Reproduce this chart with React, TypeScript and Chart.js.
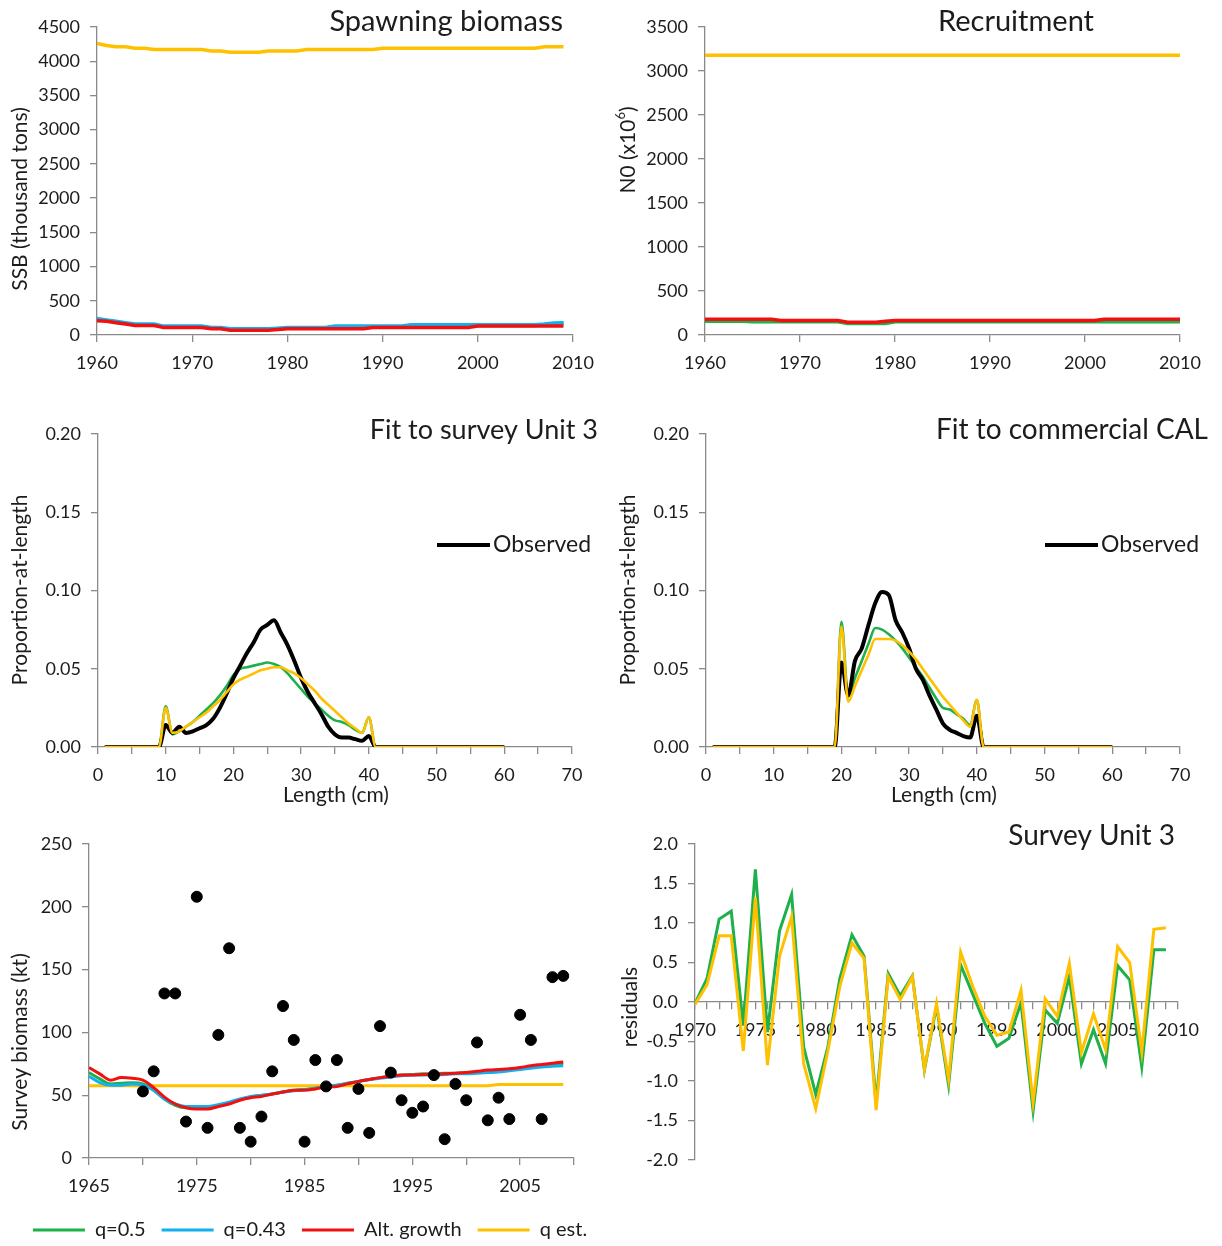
import React, { useEffect, useRef } from "react";
import { Chart, registerables } from "chart.js";

Chart.register(...registerables);

const FONT = "Lato, 'Open Sans', sans-serif";
const TXT = "#1c1c1c";
const AXIS = "#8a8a8a";
const GREEN = "#1DB04B";
const BLUE = "#12B0EE";
const RED = "#F20F0F";
const YELLOW = "#FFC000";
const BLACK = "#000000";

// ---------- categories ----------
const YEARS_1960_2009 = [1960, 1961, 1962, 1963, 1964, 1965, 1966, 1967, 1968, 1969, 1970, 1971, 1972, 1973, 1974, 1975, 1976, 1977, 1978, 1979, 1980, 1981, 1982, 1983, 1984, 1985, 1986, 1987, 1988, 1989, 1990, 1991, 1992, 1993, 1994, 1995, 1996, 1997, 1998, 1999, 2000, 2001, 2002, 2003, 2004, 2005, 2006, 2007, 2008, 2009];
const YEARS_1960_2010 = [1960, 1961, 1962, 1963, 1964, 1965, 1966, 1967, 1968, 1969, 1970, 1971, 1972, 1973, 1974, 1975, 1976, 1977, 1978, 1979, 1980, 1981, 1982, 1983, 1984, 1985, 1986, 1987, 1988, 1989, 1990, 1991, 1992, 1993, 1994, 1995, 1996, 1997, 1998, 1999, 2000, 2001, 2002, 2003, 2004, 2005, 2006, 2007, 2008, 2009, 2010];
const YEARS_1965_2009 = [1965, 1966, 1967, 1968, 1969, 1970, 1971, 1972, 1973, 1974, 1975, 1976, 1977, 1978, 1979, 1980, 1981, 1982, 1983, 1984, 1985, 1986, 1987, 1988, 1989, 1990, 1991, 1992, 1993, 1994, 1995, 1996, 1997, 1998, 1999, 2000, 2001, 2002, 2003, 2004, 2005, 2006, 2007, 2008, 2009];
const YEARS_1970_2009 = [1970, 1971, 1972, 1973, 1974, 1975, 1976, 1977, 1978, 1979, 1980, 1981, 1982, 1983, 1984, 1985, 1986, 1987, 1988, 1989, 1990, 1991, 1992, 1993, 1994, 1995, 1996, 1997, 1998, 1999, 2000, 2001, 2002, 2003, 2004, 2005, 2006, 2007, 2008, 2009];
const LENGTHS = [1, 2, 3, 4, 5, 6, 7, 8, 9, 10, 11, 12, 13, 14, 15, 16, 17, 18, 19, 20, 21, 22, 23, 24, 25, 26, 27, 28, 29, 30, 31, 32, 33, 34, 35, 36, 37, 38, 39, 40, 41, 42, 43, 44, 45, 46, 47, 48, 49, 50, 51, 52, 53, 54, 55, 56, 57, 58, 59, 60];

const SERIES_NAMES = ["q=0.5", "q=0.43", "Alt. growth", "q est."];

// ---------- Spawning biomass (1960-2009) ----------
const ssbGreen = [225, 210, 190, 170, 150, 150, 150, 120, 120, 120, 120, 120, 100, 100, 80, 80, 80, 80, 80, 90, 100, 100, 100, 100, 100, 120, 120, 120, 120, 120, 120, 120, 120, 140, 140, 140, 140, 140, 140, 140, 140, 140, 140, 140, 140, 140, 140, 150, 165, 170];
const ssbBlue = [240, 220, 200, 180, 160, 160, 160, 130, 130, 130, 130, 130, 110, 110, 90, 90, 90, 90, 90, 100, 110, 110, 110, 110, 110, 130, 130, 130, 130, 130, 130, 130, 130, 150, 150, 150, 150, 150, 150, 150, 150, 150, 150, 150, 150, 150, 150, 160, 175, 180];
const ssbRed = [210, 200, 180, 160, 140, 140, 140, 110, 110, 110, 110, 110, 90, 90, 70, 70, 70, 70, 70, 80, 90, 90, 90, 90, 90, 90, 90, 90, 90, 110, 110, 110, 110, 110, 110, 110, 110, 110, 110, 110, 130, 130, 130, 130, 130, 130, 130, 130, 130, 130];
const ssbYellow = [4260, 4230, 4210, 4210, 4190, 4190, 4170, 4170, 4170, 4170, 4170, 4170, 4150, 4150, 4130, 4130, 4130, 4130, 4150, 4150, 4150, 4150, 4170, 4170, 4170, 4170, 4170, 4170, 4170, 4170, 4190, 4190, 4190, 4190, 4190, 4190, 4190, 4190, 4190, 4190, 4190, 4190, 4190, 4190, 4190, 4190, 4190, 4210, 4210, 4210];

// ---------- Recruitment (1960-2010) ----------
const recGreen = [155, 155, 155, 155, 155, 150, 150, 150, 150, 150, 150, 150, 150, 150, 150, 130, 130, 130, 130, 130, 150, 150, 150, 150, 150, 150, 150, 150, 150, 150, 150, 150, 150, 150, 150, 150, 150, 150, 150, 150, 150, 150, 150, 150, 150, 150, 150, 150, 150, 150, 150];
const recBlue = [165, 165, 165, 165, 165, 155, 155, 155, 155, 155, 155, 155, 155, 155, 155, 140, 140, 140, 140, 140, 155, 155, 155, 155, 155, 155, 155, 155, 155, 155, 155, 155, 155, 155, 155, 155, 155, 155, 155, 155, 155, 155, 155, 155, 155, 155, 155, 155, 155, 155, 155];
const recRed = [180, 180, 180, 180, 180, 180, 180, 180, 165, 165, 165, 165, 165, 165, 165, 145, 145, 145, 145, 155, 165, 165, 165, 165, 165, 165, 165, 165, 165, 165, 165, 165, 165, 165, 165, 165, 165, 165, 165, 165, 165, 165, 180, 180, 180, 180, 180, 180, 180, 180, 180];
const recYellow = [3180, 3180, 3180, 3180, 3180, 3180, 3180, 3180, 3180, 3180, 3180, 3180, 3180, 3180, 3180, 3180, 3180, 3180, 3180, 3180, 3180, 3180, 3180, 3180, 3180, 3180, 3180, 3180, 3180, 3180, 3180, 3180, 3180, 3180, 3180, 3180, 3180, 3180, 3180, 3180, 3180, 3180, 3180, 3180, 3180, 3180, 3180, 3180, 3180, 3180, 3180];

// ---------- Fit to survey Unit 3 (length 1-60 cm) ----------
const surveyObserved = [0, 0, 0, 0, 0, 0, 0, 0, 0, 0.014, 0.009, 0.013, 0.009, 0.010, 0.012, 0.014, 0.018, 0.025, 0.034, 0.044, 0.052, 0.060, 0.067, 0.075, 0.078, 0.081, 0.073, 0.065, 0.055, 0.044, 0.035, 0.028, 0.021, 0.013, 0.008, 0.006, 0.006, 0.005, 0.004, 0.007, 0, 0, 0, 0, 0, 0, 0, 0, 0, 0, 0, 0, 0, 0, 0, 0, 0, 0, 0, 0];
const surveyGreen = [0, 0, 0, 0, 0, 0, 0, 0, 0, 0.026, 0.008, 0.010, 0.013, 0.016, 0.020, 0.024, 0.028, 0.033, 0.039, 0.046, 0.050, 0.051, 0.052, 0.053, 0.054, 0.053, 0.051, 0.047, 0.042, 0.037, 0.032, 0.028, 0.024, 0.020, 0.017, 0.016, 0.014, 0.011, 0.009, 0.019, 0, 0, 0, 0, 0, 0, 0, 0, 0, 0, 0, 0, 0, 0, 0, 0, 0, 0, 0, 0];
const surveyYellow = [0, 0, 0, 0, 0, 0, 0, 0, 0, 0.025, 0.009, 0.010, 0.013, 0.016, 0.019, 0.022, 0.026, 0.030, 0.035, 0.040, 0.043, 0.045, 0.047, 0.049, 0.050, 0.051, 0.051, 0.049, 0.047, 0.044, 0.040, 0.036, 0.031, 0.027, 0.023, 0.019, 0.015, 0.012, 0.009, 0.019, 0, 0, 0, 0, 0, 0, 0, 0, 0, 0, 0, 0, 0, 0, 0, 0, 0, 0, 0, 0];

// ---------- Fit to commercial CAL (length 1-60 cm) ----------
const commObserved = [0, 0, 0, 0, 0, 0, 0, 0, 0, 0, 0, 0, 0, 0, 0, 0, 0, 0, 0, 0.054, 0.033, 0.055, 0.063, 0.078, 0.092, 0.099, 0.097, 0.081, 0.073, 0.063, 0.050, 0.043, 0.033, 0.024, 0.015, 0.011, 0.009, 0.007, 0.006, 0.020, 0, 0, 0, 0, 0, 0, 0, 0, 0, 0, 0, 0, 0, 0, 0, 0, 0, 0, 0, 0];
const commGreen = [0, 0, 0, 0, 0, 0, 0, 0, 0, 0, 0, 0, 0, 0, 0, 0, 0, 0, 0, 0.080, 0.032, 0.044, 0.055, 0.066, 0.076, 0.075, 0.072, 0.068, 0.063, 0.057, 0.051, 0.045, 0.038, 0.031, 0.025, 0.024, 0.021, 0.018, 0.014, 0.030, 0, 0, 0, 0, 0, 0, 0, 0, 0, 0, 0, 0, 0, 0, 0, 0, 0, 0, 0, 0];
const commYellow = [0, 0, 0, 0, 0, 0, 0, 0, 0, 0, 0, 0, 0, 0, 0, 0, 0, 0, 0, 0.077, 0.029, 0.039, 0.049, 0.059, 0.069, 0.069, 0.069, 0.068, 0.065, 0.061, 0.056, 0.050, 0.044, 0.038, 0.032, 0.027, 0.022, 0.017, 0.013, 0.030, 0, 0, 0, 0, 0, 0, 0, 0, 0, 0, 0, 0, 0, 0, 0, 0, 0, 0, 0, 0];

// ---------- Survey biomass (kt) ----------
const surveyIndexObs = [53, 69, 131, 131, 29, 208, 24, 98, 167, 24, 13, 33, 69, 121, 94, 13, 78, 57, 78, 24, 55, 20, 105, 68, 46, 36, 41, 66, 15, 59, 46, 92, 30, 48, 31, 114, 94, 31, 144, 145];
const biomassGreen = [68, 63, 59, 59.5, 60, 59, 54, 47, 42, 40, 40, 40, 42, 44, 46.5, 48.5, 49.5, 51, 52.5, 54, 54.5, 55.5, 57, 58, 59.5, 61, 62.5, 64, 65, 66, 66.5, 67, 67, 67.5, 67.5, 68, 68.5, 69, 69.5, 70.5, 71.5, 72.5, 73.5, 74.5, 75.5];
const biomassBlue = [65, 60, 58, 58, 59, 58, 54, 47, 43, 41, 41, 41, 42.5, 44.5, 47, 49, 50, 51, 52.5, 53.5, 54.5, 55.5, 57, 58, 59.5, 61, 62.5, 63.5, 64.5, 65.5, 66, 66, 66, 66.5, 67, 67, 67.5, 68, 68.5, 69.5, 70.5, 71.5, 72.5, 73, 73.5];
const biomassRed = [72, 67, 62, 64, 63.5, 62, 56, 48.5, 43, 40, 39, 39, 41, 43, 46, 48, 49, 51, 52.5, 54, 54, 55, 56.5, 57, 59, 61, 62.5, 64, 65, 66, 66, 66.5, 66.5, 67, 67.5, 68, 69, 70, 70.5, 71, 72, 73.5, 74.5, 75.5, 76.5];
const biomassYellow = [57.5, 57.5, 57.5, 57.5, 57.5, 57.5, 57.5, 57.5, 57.5, 57.5, 57.5, 57.5, 57.5, 57.5, 57.5, 57.5, 57.5, 57.5, 57.5, 57.5, 57.5, 57.5, 57.5, 57.5, 57.5, 57.5, 57.5, 57.5, 57.5, 57.5, 57.5, 57.5, 57.5, 57.5, 57.5, 57.5, 57.5, 57.5, 58.5, 58.5, 58.5, 58.5, 58.5, 58.5, 58.5];

// ---------- Residuals Survey Unit 3 (1970-2009) ----------
const residGreen = [-0.02, 0.3, 1.05, 1.15, -0.3, 1.68, -0.38, 0.9, 1.36, -0.57, -1.17, -0.57, 0.3, 0.85, 0.58, -1.28, 0.36, 0.08, 0.33, -0.86, -0.05, -1.05, 0.47, 0.1, -0.27, -0.56, -0.46, -0.01, -1.38, -0.1, -0.27, 0.32, -0.78, -0.35, -0.78, 0.46, 0.28, -0.82, 0.66, 0.66];
const residYellow = [-0.03, 0.22, 0.84, 0.84, -0.62, 1.32, -0.8, 0.58, 1.08, -0.78, -1.35, -0.62, 0.2, 0.75, 0.55, -1.37, 0.32, 0.03, 0.32, -0.85, -0.02, -0.98, 0.63, 0.2, -0.18, -0.42, -0.38, 0.15, -1.27, 0.04, -0.18, 0.49, -0.64, -0.15, -0.6, 0.7, 0.5, -0.63, 0.92, 0.94];

// ---------- helpers ----------
type Seg = { text: string; size: number; dy?: number };
type TextItem = { segs: Seg[]; x: number; y: number; align: "left" | "right" | "center"; rotate?: boolean };
type LineItem = { x1: number; x2: number; y: number; color: string; width: number };

function annotPlugin(texts: TextItem[], lines: LineItem[] = []) {
  return {
    id: "annot",
    afterDraw(chart: any) {
      const ctx: CanvasRenderingContext2D = chart.ctx;
      ctx.save();
      for (const l of lines) {
        ctx.strokeStyle = l.color;
        ctx.lineWidth = l.width;
        ctx.beginPath();
        ctx.moveTo(l.x1, l.y);
        ctx.lineTo(l.x2, l.y);
        ctx.stroke();
      }
      for (const t of texts) {
        ctx.save();
        ctx.translate(t.x, t.y);
        if (t.rotate) ctx.rotate(-Math.PI / 2);
        ctx.fillStyle = TXT;
        ctx.textBaseline = "middle";
        ctx.textAlign = "left";
        const widths = t.segs.map((s) => {
          ctx.font = `${s.size}px ${FONT}`;
          return ctx.measureText(s.text).width;
        });
        const total = widths.reduce((a, b) => a + b, 0);
        let x = t.align === "left" ? 0 : t.align === "right" ? -total : -total / 2;
        t.segs.forEach((s, i) => {
          ctx.font = `${s.size}px ${FONT}`;
          ctx.fillText(s.text, x, s.dy || 0);
          x += widths[i];
        });
        ctx.restore();
      }
      ctx.restore();
    },
  };
}

const txt = (text: string, size: number, x: number, y: number, align: "left" | "right" | "center", rotate = false): TextItem => ({
  segs: [{ text, size }],
  x,
  y,
  align,
  rotate,
});

const xy = (xs: number[], ys: number[]) => xs.map((x, i) => ({ x, y: ys[i] }));

function lineSet(label: string, xs: number[], ys: number[], color: string, width: number, order: number, smooth = false) {
  return {
    type: "line",
    label,
    data: xy(xs, ys),
    borderColor: color,
    backgroundColor: color,
    borderWidth: width,
    pointRadius: 0,
    pointHoverRadius: 0,
    fill: false,
    order,
    tension: smooth ? 0.4 : 0,
    cubicInterpolationMode: smooth ? "monotone" : "default",
  };
}

type AxisCfg = {
  min: number;
  max: number;
  step: number;
  fmt: (v: number) => string;
  every?: number;
  fit: (s: any) => void;
  position?: any;
};

function makeAxis(cfg: AxisCfg) {
  const a: any = {
    type: "linear",
    min: cfg.min,
    max: cfg.max,
    afterFit: cfg.fit,
    border: { display: true, color: AXIS, width: 1.3 },
    grid: { display: true, drawOnChartArea: false, drawTicks: true, tickLength: 7, color: AXIS, lineWidth: 1.3 },
    ticks: {
      stepSize: cfg.step,
      autoSkip: false,
      maxRotation: 0,
      minRotation: 0,
      padding: 10,
      color: TXT,
      font: { family: FONT, size: 18 },
      callback: (v: number) => {
        if (cfg.every) {
          const k = Math.round((v - cfg.min) / cfg.step);
          const m = Math.round(cfg.every / cfg.step);
          if (k % m !== 0) return "";
        }
        return cfg.fmt(v);
      },
    },
  };
  if (cfg.position !== undefined) a.position = cfg.position;
  return a;
}

const yearFmt = (v: number) => String(Math.round(v));
const intFmt = (v: number) => String(Math.round(v));
const fix2 = (v: number) => (Math.abs(v) < 1e-9 ? 0 : v).toFixed(2);
const fix1 = (v: number) => (Math.abs(v) < 1e-9 ? 0 : v).toFixed(1);

function baseOptions(pad: { left?: number; top: number; right: number; bottom: number }) {
  return {
    responsive: false,
    animation: false as const,
    events: [],
    layout: { padding: { left: pad.left || 0, top: pad.top, right: pad.right, bottom: pad.bottom } },
    plugins: { legend: { display: false }, tooltip: { enabled: false }, title: { display: false } },
  };
}

// ---------- panel configs ----------
function cfgSSB() {
  const W = 610, H = 400, L = 97, T = 27, R = 573, B = 335;
  return {
    type: "line",
    data: {
      datasets: [
        lineSet(SERIES_NAMES[0], YEARS_1960_2009, ssbGreen, GREEN, 3.5, 3),
        lineSet(SERIES_NAMES[1], YEARS_1960_2009, ssbBlue, BLUE, 3.5, 2),
        lineSet(SERIES_NAMES[2], YEARS_1960_2009, ssbRed, RED, 3.5, 1),
        lineSet(SERIES_NAMES[3], YEARS_1960_2009, ssbYellow, YELLOW, 3.5, 0),
      ],
    },
    options: {
      ...baseOptions({ top: T, right: W - R, bottom: 0 }),
      scales: {
        x: makeAxis({ min: 1960, max: 2010, step: 10, fmt: yearFmt, fit: (s) => { s.height = H - B; } }),
        y: makeAxis({ min: 0, max: 4500, step: 500, fmt: intFmt, fit: (s) => { s.width = L; } }),
      },
    },
    plugins: [
      annotPlugin([
        txt("Spawning biomass", 29, 563, 22, "right"),
        txt("SSB (thousand tons)", 21, 20, 199, "center", true),
      ]),
    ],
  };
}

function cfgRec() {
  const W = 612, H = 400, L = 95, T = 27, R = 570, B = 335;
  return {
    type: "line",
    data: {
      datasets: [
        lineSet(SERIES_NAMES[0], YEARS_1960_2010, recGreen, GREEN, 3.5, 1),
        lineSet(SERIES_NAMES[1], YEARS_1960_2010, recBlue, BLUE, 3.5, 2),
        lineSet(SERIES_NAMES[2], YEARS_1960_2010, recRed, RED, 3.5, 0),
        lineSet(SERIES_NAMES[3], YEARS_1960_2010, recYellow, YELLOW, 3.5, 3),
      ],
    },
    options: {
      ...baseOptions({ top: T, right: W - R, bottom: 0 }),
      scales: {
        x: makeAxis({ min: 1960, max: 2010, step: 10, fmt: yearFmt, fit: (s) => { s.height = H - B; } }),
        y: makeAxis({ min: 0, max: 3500, step: 500, fmt: intFmt, fit: (s) => { s.width = L; } }),
      },
    },
    plugins: [
      annotPlugin([
        txt("Recruitment", 29, 406, 22, "center"),
        {
          segs: [
            { text: "N0 (x10", size: 21 },
            { text: "6", size: 13, dy: -7 },
            { text: ")", size: 21 },
          ],
          x: 18,
          y: 150,
          align: "center",
          rotate: true,
        },
      ]),
    ],
  };
}

function cfgLength(title: string, titleSize: number, obs: number[], green: number[], yellow: number[], W: number, L: number, R: number, titleRight: number, legX: number, xTitleX: number, yTitleX: number) {
  const H = 400, T = 24, B = 337;
  return {
    type: "line",
    data: {
      datasets: [
        lineSet("Observed", LENGTHS, obs, BLACK, 4, 1, true),
        lineSet(SERIES_NAMES[0], LENGTHS, green, GREEN, 2.6, 2, true),
        lineSet(SERIES_NAMES[3], LENGTHS, yellow, YELLOW, 2.6, 0, true),
      ],
    },
    options: {
      ...baseOptions({ top: T, right: W - R, bottom: 0 }),
      scales: {
        x: makeAxis({ min: 0, max: 70, step: 5, every: 10, fmt: intFmt, fit: (s) => { s.height = H - B; } }),
        y: makeAxis({ min: 0, max: 0.2, step: 0.05, fmt: fix2, fit: (s) => { s.width = L; } }),
      },
    },
    plugins: [
      annotPlugin(
        [
          txt(title, titleSize, titleRight, 20, "right"),
          txt("Observed", 23, legX + 56, 135, "left"),
          txt("Length (cm)", 21, xTitleX, 385, "center"),
          txt("Proportion-at-length", 21, yTitleX, 180, "center", true),
        ],
        [{ x1: legX, x2: legX + 53, y: 135, color: BLACK, width: 4 }]
      ),
    ],
  };
}

function cfgBiomass() {
  const W = 610, H = 430, PL = 10, L = 89, T = 24, R = 574, B = 338;
  const LEG_FONT = 20, LEG_PAD = 16;
  const LEGEND_H = LEG_FONT + LEG_PAD + 10;
  return {
    type: "line",
    data: {
      datasets: [
        lineSet(SERIES_NAMES[0], YEARS_1965_2009, biomassGreen, GREEN, 3, 3, true),
        lineSet(SERIES_NAMES[1], YEARS_1965_2009, biomassBlue, BLUE, 3, 2, true),
        lineSet(SERIES_NAMES[2], YEARS_1965_2009, biomassRed, RED, 3, 1, true),
        lineSet(SERIES_NAMES[3], YEARS_1965_2009, biomassYellow, YELLOW, 3, 4),
        {
          type: "scatter",
          label: "Survey observed",
          data: xy(YEARS_1970_2009, surveyIndexObs),
          showLine: false,
          pointRadius: 5.5,
          pointHoverRadius: 5.5,
          pointBackgroundColor: BLACK,
          pointBorderColor: BLACK,
          borderColor: BLACK,
          backgroundColor: BLACK,
          order: 0,
        },
      ],
    },
    options: {
      ...baseOptions({ left: PL, top: T, right: 0, bottom: 0 }),
      plugins: {
        tooltip: { enabled: false },
        legend: {
          display: true,
          position: "bottom",
          align: "center",
          labels: {
            usePointStyle: true,
            pointStyle: "line",
            pointStyleWidth: 52,
            padding: LEG_PAD,
            color: TXT,
            font: { family: FONT, size: LEG_FONT },
            filter: (item: any) => item.datasetIndex < 4,
            sort: (a: any, b: any) => a.datasetIndex - b.datasetIndex,
          },
        },
      },
      scales: {
        x: makeAxis({ min: 1965, max: 2010, step: 5, every: 10, fmt: yearFmt, fit: (s) => { s.height = H - LEGEND_H - B; } }),
        y: makeAxis({ min: 0, max: 250, step: 50, fmt: intFmt, fit: (s) => { s.width = L - PL; } }),
        // invisible spacer on the right so the legend can span the full panel width
        yRight: {
          type: "linear",
          position: "right",
          min: 0,
          max: 250,
          display: true,
          grid: { display: false },
          border: { display: false },
          ticks: { display: false },
          afterFit: (s: any) => { s.width = W - R; },
        },
      },
    },
    plugins: [annotPlugin([txt("Survey biomass (kt)", 21, 20, 222, "center", true)])],
  };
}

function cfgResid() {
  const W = 612, H = 400, L = 85, T = 24, R = 568, B = 340;
  return {
    type: "line",
    data: {
      datasets: [
        lineSet(SERIES_NAMES[0], YEARS_1970_2009, residGreen, GREEN, 3, 1),
        lineSet(SERIES_NAMES[3], YEARS_1970_2009, residYellow, YELLOW, 3, 0),
      ],
    },
    options: {
      ...baseOptions({ top: T, right: W - R, bottom: H - B }),
      scales: {
        x: makeAxis({ min: 1970, max: 2010, step: 1, every: 5, fmt: yearFmt, fit: () => {}, position: { y: 0 } }),
        y: makeAxis({ min: -2, max: 2, step: 0.5, fmt: fix1, fit: (s) => { s.width = L; } }),
      },
    },
    plugins: [
      annotPlugin([
        txt("Survey Unit 3", 28, 565, 16, "right"),
        txt("residuals", 21, 20, 187, "center", true),
      ]),
    ],
  };
}

// ---------- components ----------
function Panel(props: { left: number; top: number; width: number; height: number; make: () => any }) {
  const ref = useRef<HTMLCanvasElement>(null);
  useEffect(() => {
    const chart = new Chart(ref.current as HTMLCanvasElement, props.make());
    return () => chart.destroy();
  }, []);
  return (
    <canvas
      ref={ref}
      width={props.width}
      height={props.height}
      style={{ position: "absolute", left: props.left, top: props.top, width: props.width, height: props.height }}
    />
  );
}

export default function App() {
  return (
    <div
      style={{
        position: "absolute",
        left: 0,
        top: 0,
        width: 1222,
        height: 1246,
        overflow: "hidden",
        background: "#ffffff",
      }}
    >
      <Panel left={0} top={0} width={610} height={400} make={cfgSSB} />
      <Panel left={610} top={0} width={612} height={400} make={cfgRec} />
      <Panel
        left={0}
        top={410}
        width={610}
        height={400}
        make={() => cfgLength("Fit to survey Unit 3", 27, surveyObserved, surveyGreen, surveyYellow, 610, 98, 572, 598, 437, 336, 20)}
      />
      <Panel
        left={610}
        top={410}
        width={612}
        height={400}
        make={() => cfgLength("Fit to commercial CAL", 28, commObserved, commGreen, commYellow, 612, 96, 570, 598, 435, 334, 18)}
      />
      <Panel left={0} top={820} width={610} height={430} make={cfgBiomass} />
      <Panel left={610} top={820} width={612} height={400} make={cfgResid} />
    </div>
  );
}
